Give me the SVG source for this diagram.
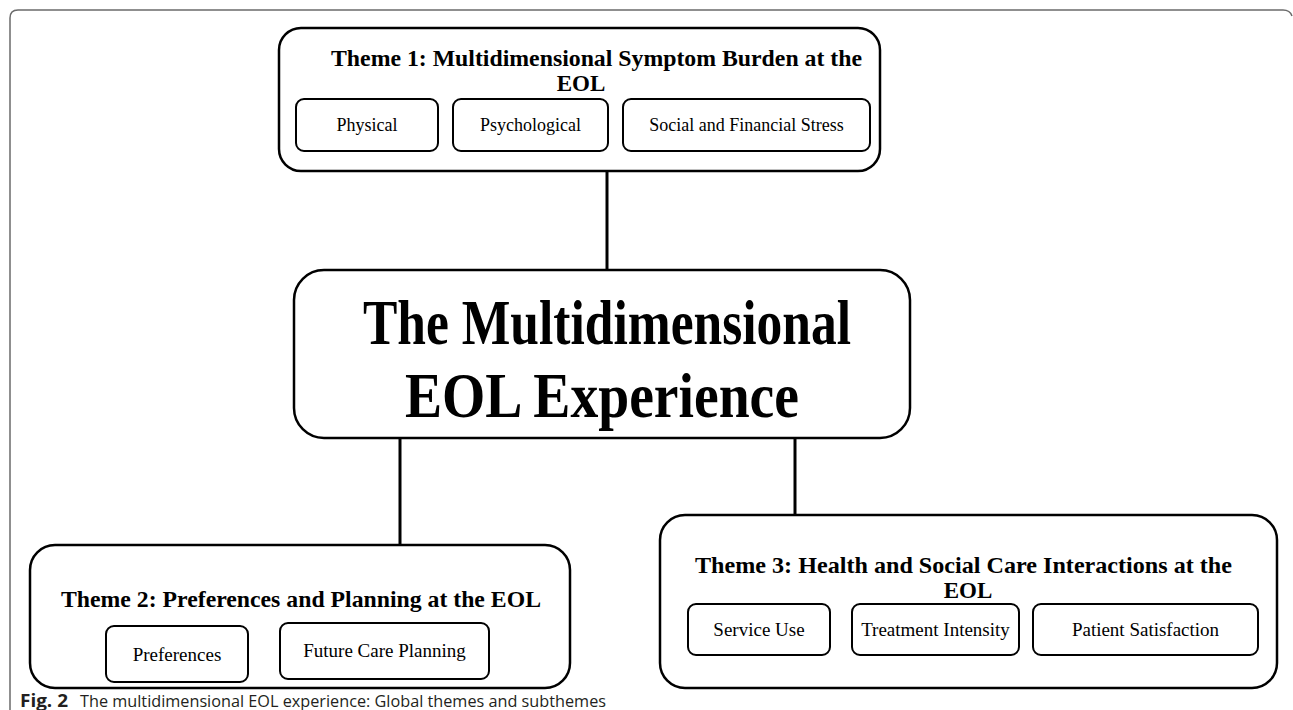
<svg xmlns="http://www.w3.org/2000/svg" width="1293" height="710" viewBox="0 0 1293 710">
  <style>
    .frame { fill: none; stroke: #6b6b6b; stroke-width: 1.5; }
    .theme { fill: #ffffff; stroke: #000000; stroke-width: 2.5; }
    .sub { fill: #ffffff; stroke: #000000; stroke-width: 2; }
    .link { stroke: #000000; stroke-width: 3; fill: none; }
    .title { font-family: "Liberation Serif", "Times New Roman", serif; font-weight: bold; font-size: 23px; fill: #000; }
    .core { font-family: "Liberation Serif", "Times New Roman", serif; font-weight: bold; font-size: 64px; fill: #000; }
    .label { font-family: "Liberation Serif", "Times New Roman", serif; font-size: 18px; fill: #000; text-anchor: middle; }
    .big { font-size: 19px; }
    .cap { font-family: "Open Sans", "Noto Sans", sans-serif; font-size: 17px; fill: #231f20; }
  </style>

  <!-- figure frame -->
  <path class="frame" d="M10 710 V18 Q10 10 18 10 H1283 Q1290 10 1292 16"/>

  <!-- connectors -->
  <g id="connectors">
    <line class="link" x1="607" y1="171" x2="607" y2="270"/>
    <line class="link" x1="400" y1="438" x2="400" y2="545"/>
    <line class="link" x1="795" y1="438" x2="795" y2="515"/>
  </g>

  <!-- Theme 1 -->
  <g id="theme1">
    <rect class="theme" x="279" y="28" width="601" height="143" rx="22"/>
    <text class="title" x="331" y="66" textLength="531" lengthAdjust="spacingAndGlyphs">Theme 1: Multidimensional Symptom Burden at the</text>
    <text class="title" x="581" y="91" text-anchor="middle">EOL</text>
    <g id="t1-physical">
      <rect class="sub" x="296" y="99" width="142" height="52" rx="8"/>
      <text class="label" x="367" y="131">Physical</text>
    </g>
    <g id="t1-psychological">
      <rect class="sub" x="453" y="99" width="155" height="52" rx="8"/>
      <text class="label" x="530.5" y="131">Psychological</text>
    </g>
    <g id="t1-social">
      <rect class="sub" x="623" y="99" width="247" height="52" rx="8"/>
      <text class="label" x="746.5" y="131">Social and Financial Stress</text>
    </g>
  </g>

  <!-- Core concept -->
  <g id="core">
    <rect class="theme" x="294" y="270" width="616" height="168" rx="30"/>
    <text class="core" x="363" y="344" textLength="488" lengthAdjust="spacingAndGlyphs">The Multidimensional</text>
    <text class="core" x="405" y="417" textLength="394" lengthAdjust="spacingAndGlyphs">EOL Experience</text>
  </g>

  <!-- Theme 2 -->
  <g id="theme2">
    <rect class="theme" x="30" y="545" width="540" height="143" rx="25"/>
    <text class="title" x="61" y="607" textLength="480" lengthAdjust="spacingAndGlyphs">Theme 2: Preferences and Planning at the EOL</text>
    <g id="t2-preferences">
      <rect class="sub" x="106" y="626" width="142" height="56" rx="8"/>
      <text class="label big" x="177" y="661">Preferences</text>
    </g>
    <g id="t2-planning">
      <rect class="sub" x="280" y="623" width="209" height="56" rx="8"/>
      <text class="label big" x="384.5" y="657">Future Care Planning</text>
    </g>
  </g>

  <!-- Theme 3 -->
  <g id="theme3">
    <rect class="theme" x="660" y="515" width="617" height="173" rx="25"/>
    <text class="title" x="695" y="573" textLength="537" lengthAdjust="spacingAndGlyphs">Theme 3: Health and Social Care Interactions at the</text>
    <text class="title" x="968" y="598" text-anchor="middle">EOL</text>
    <g id="t3-service">
      <rect class="sub" x="688" y="604" width="142" height="51" rx="8"/>
      <text class="label big" x="759" y="636">Service Use</text>
    </g>
    <g id="t3-intensity">
      <rect class="sub" x="852" y="604" width="167" height="51" rx="8"/>
      <text class="label big" x="935.5" y="636">Treatment Intensity</text>
    </g>
    <g id="t3-satisfaction">
      <rect class="sub" x="1033" y="604" width="225" height="51" rx="8"/>
      <text class="label big" x="1145.5" y="636">Patient Satisfaction</text>
    </g>
  </g>

  <!-- caption -->
  <g id="caption">
    <text class="cap" x="20" y="707" font-weight="bold" font-size="18" textLength="48" lengthAdjust="spacingAndGlyphs">Fig. 2</text>
    <text class="cap" x="80" y="707" textLength="526" lengthAdjust="spacingAndGlyphs">The multidimensional EOL experience: Global themes and subthemes</text>
  </g>
</svg>
